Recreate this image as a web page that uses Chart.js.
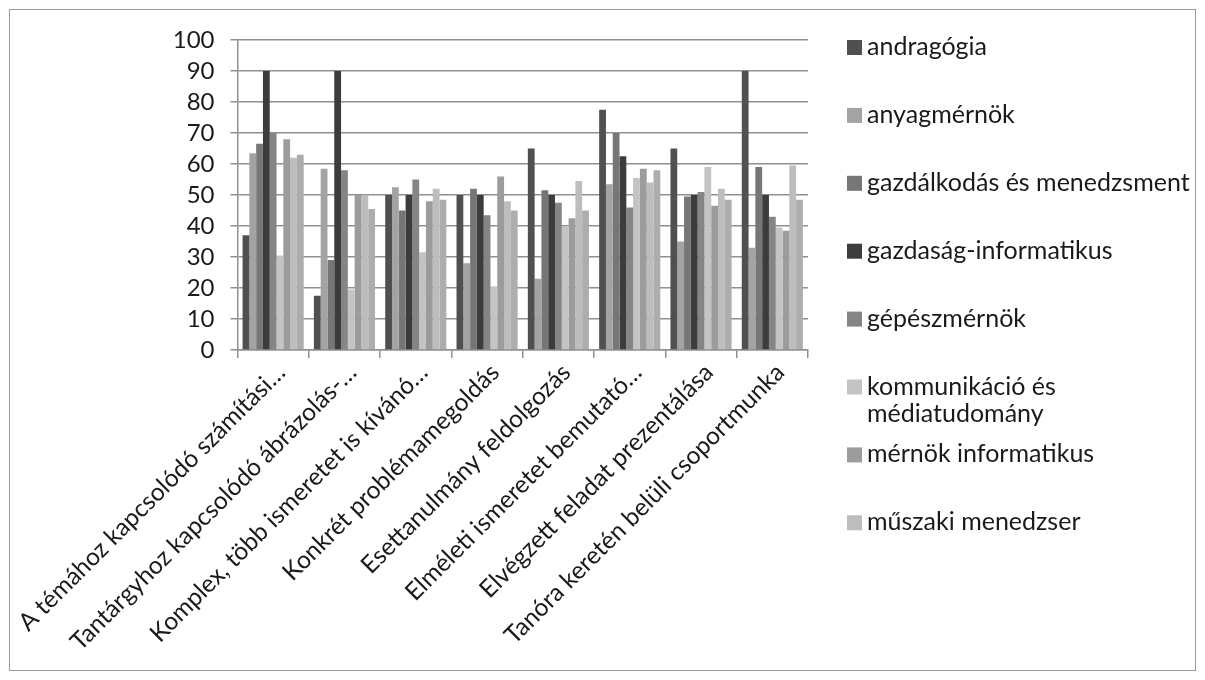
<!DOCTYPE html>
<html>
<head>
<meta charset="utf-8">
<script src="https://cdn.jsdelivr.net/npm/chart.js@4.4.1/dist/chart.umd.min.js"></script>
<style>
  body { margin: 0; background: #fff; }
  #wrap { position: relative; width: 1205px; height: 680px; }
  #frame { position: absolute; left: 9px; top: 9px; width: 1185px; height: 660px; border: 1px solid #9a9a9a; }
  canvas { position: absolute; left: 0; top: 0; }
</style>
</head>
<body>
<div id="wrap">
  <div id="frame"></div>
  <canvas id="chart" width="1205" height="680"></canvas>
</div>
<script>
// categories (x axis, cut off as in the original)
const categories = [
  "A témához kapcsolódó számítási…",
  "Tantárgyhoz kapcsolódó ábrázolás-…",
  "Komplex, több ismeretet is kívánó…",
  "Konkrét problémamegoldás",
  "Esettanulmány feldolgozás",
  "Elméleti ismeretet bemutató…",
  "Elvégzett feladat prezentálása",
  "Tanóra keretén belüli csoportmunka"
];

// series names (the 9th one is not shown in the legend of the original)
const seriesNames = [
  "andragógia",
  "anyagmérnök",
  "gazdálkodás és menedzsment",
  "gazdaság-informatikus",
  "gépészmérnök",
  ["kommunikáció és", "médiatudomány"],
  "mérnök informatikus",
  "műszaki menedzser",
  "egyéb"
];

// values
const andragogia      = [37, 17.5, 50, 50, 65, 77.5, 65, 90];
const anyagmernok     = [63.5, 58.5, 52.5, 28, 23, 53.5, 35, 33];
const gazdalkodas     = [66.5, 29, 45, 52, 51.5, 70, 49.5, 59];
const gazdasagInfo    = [90, 90, 50, 50, 50, 62.5, 50, 50];
const gepeszmernok    = [70, 58, 55, 43.5, 47.5, 46, 51, 43];
const kommunikacio    = [30.5, 19.5, 31.5, 20.5, 40, 55.5, 59, 39.5];
const mernokInfo      = [68, 50, 48, 56, 42.5, 58.5, 46.5, 38.5];
const muszakiMenedzser = [62, 50, 52, 48, 54.5, 54, 52, 59.5];
const egyeb           = [63, 45.5, 48.5, 45, 45, 58, 48.5, 48.5];

const yTicks = [0, 10, 20, 30, 40, 50, 60, 70, 80, 90, 100];

const seriesValues = [andragogia, anyagmernok, gazdalkodas, gazdasagInfo, gepeszmernok,
  kommunikacio, mernokInfo, muszakiMenedzser, egyeb];
const seriesColors = ["#505050", "#a3a3a3", "#767676", "#3c3c3c", "#858585",
  "#c4c4c4", "#9c9c9c", "#bdbdbd", "#adadad"];

const FONT = "Lato";
const legendCount = 8;

// legend on the right, drawn by hand like the Excel one
const sideLegend = {
  id: 'sideLegend',
  afterDraw(chart) {
    const ctx = chart.ctx;
    ctx.save();
    ctx.font = "25px " + FONT;
    ctx.textBaseline = "middle";
    for (let i = 0; i < legendCount; i++) {
      const y = 47 + i * 67.9;
      ctx.fillStyle = seriesColors[i];
      ctx.fillRect(847, y - 7, 15, 15);
      ctx.fillStyle = "#1a1a1a";
      const lines = Array.isArray(seriesNames[i]) ? seriesNames[i] : [seriesNames[i]];
      lines.forEach((line, j) => ctx.fillText(line, 867, y + j * 27));
    }
    ctx.restore();
  }
};

const datasets = seriesValues.map((vals, i) => ({
  label: Array.isArray(seriesNames[i]) ? seriesNames[i].join(" ") : seriesNames[i],
  data: vals,
  backgroundColor: seriesColors[i],
  borderWidth: 0,
  categoryPercentage: 9 / 10.5,
  barPercentage: 1.0
}));

new Chart(document.getElementById('chart'), {
  type: 'bar',
  data: { labels: categories, datasets: datasets },
  options: {
    responsive: false,
    animation: false,
    layout: { autoPadding: false, padding: { left: 0, top: 40, right: 397, bottom: 0 } },
    plugins: { legend: { display: false }, tooltip: { enabled: false } },
    scales: {
      x: {
        grid: { drawOnChartArea: false, offset: true, tickLength: 8, color: "#8f8f8f", lineWidth: 1.5 },
        border: { color: "#8f8f8f", width: 1.5 },
        ticks: { autoSkip: false, maxRotation: 45, minRotation: 45, padding: 0, labelOffset: 8,
          color: "#1a1a1a", font: { family: FONT, size: 24.5 } },
        afterFit: (scale) => { scale.height = 330; }
      },
      y: {
        min: 0, max: 100,
        afterBuildTicks: (scale) => { scale.ticks = yTicks.map(v => ({ value: v })); },
        grid: { color: "#8f8f8f", lineWidth: 1.5, tickLength: 7 },
        border: { color: "#8f8f8f", width: 1.5 },
        ticks: { autoSkip: false, padding: 16, color: "#1a1a1a", font: { family: FONT, size: 24 } },
        afterFit: (scale) => { scale.width = 237; }
      }
    }
  },
  plugins: [sideLegend]
});
</script>
</body>
</html>
